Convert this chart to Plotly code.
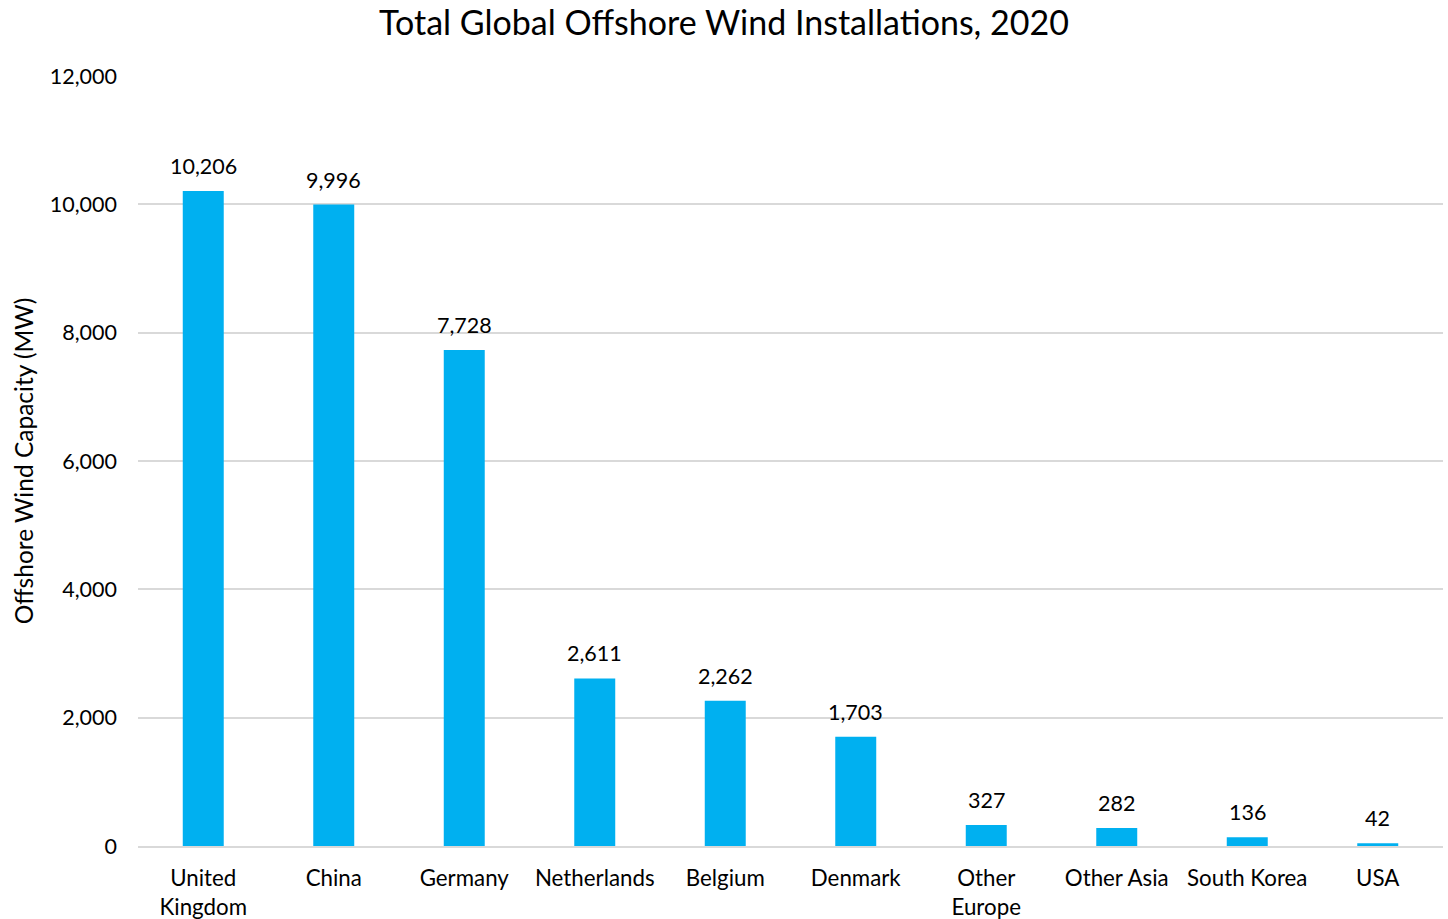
import plotly.graph_objects as go

categories = ["United<br>Kingdom", "China", "Germany", "Netherlands", "Belgium",
              "Denmark", "Other<br>Europe", "Other Asia", "South Korea", "USA"]
capacity_mw = [10206, 9996, 7728, 2611, 2262, 1703, 327, 282, 136, 42]
y_ticks = [0, 2000, 4000, 6000, 8000, 10000, 12000]

FONT = "Lato"
fig = go.Figure()
fig.add_trace(go.Bar(x=categories, y=capacity_mw, marker_color="#00B0F0",
                     marker_line_width=0, hoverinfo="x+y"))

for c, v in zip(categories, capacity_mw):
    fig.add_annotation(x=c, y=v, text=f"{v:,}", showarrow=False, yanchor="bottom",
                       yshift=10, font=dict(family=FONT, size=21.5, color="#000"))

fig.update_layout(
    width=1448, height=919,
    margin=dict(l=138, r=5, t=76, b=73),
    paper_bgcolor="white", plot_bgcolor="white",
    bargap=0.686,
    showlegend=False,
    title=dict(text="Total Global Offshore Wind Installations, 2020", x=0.5, xref="container",
               xanchor="center", y=0.975, yanchor="middle",
               font=dict(family=FONT, size=34, color="#000")),
    xaxis=dict(showgrid=False, showline=True, linecolor="#D9D9D9", linewidth=2,
               ticks="", tickfont=dict(family=FONT, size=22.3, color="#000"),
               ticklabelstandoff=11, automargin=False),
    yaxis=dict(range=[0, 12000], tickvals=y_ticks, tickformat=",d",
               showgrid=True, gridcolor="#D9D9D9", gridwidth=1.5, zeroline=False,
               showline=False, ticks="", automargin=False,
               tickfont=dict(family=FONT, size=21.5, color="#000"),
               ticklabelstandoff=20,
               title=dict(text="Offshore Wind Capacity (MW)", standoff=9,
                          font=dict(family=FONT, size=24.5, color="#000"))),
)
fig.write_html("out.html")
